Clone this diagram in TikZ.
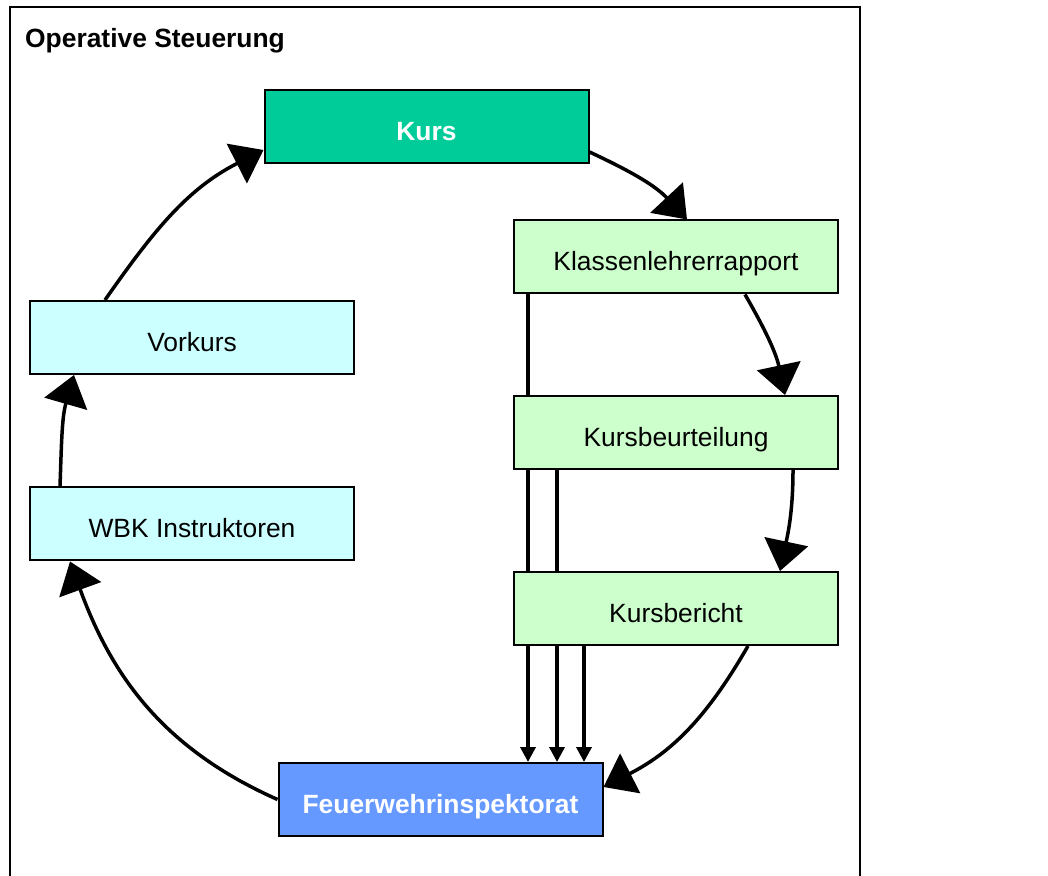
\documentclass[tikz,border=0pt]{standalone}
\usepackage{fontspec}
\setmainfont{Liberation Sans}
\usetikzlibrary{arrows.meta,backgrounds}
\definecolor{kursgreen}{HTML}{00CC99}
\definecolor{palegreen}{HTML}{CCFFCC}
\definecolor{palecyan}{HTML}{CCFFFF}
\definecolor{fwiblue}{HTML}{6699FF}
\tikzset{%
    box/.style={draw,line width=2pt,minimum width=324pt,minimum height=73pt,
      inner sep=0pt,text height=28pt,text depth=0pt,font=\fontsize{26.4}{30}\selectfont},
    boldbox/.style={box,text=white,font=\fontsize{26.4}{30}\selectfont\bfseries},
    flow/.style={line width=3.5pt,-{Triangle[length=30pt,width=44pt]}},
    feed/.style={line width=3.5pt,-{Triangle[length=15pt,width=15pt]}},
}
\begin{document}
\begin{tikzpicture}[x=1pt,y=1pt]
 \useasboundingbox (0,0) rectangle (1048,875);
 \draw[line width=2pt] (10,-20) -- (10,868) -- (860,868) -- (860,-20);
 \node[anchor=base west,inner sep=0pt,font=\fontsize{26.4}{30}\selectfont\bfseries] (title)
  at (25,827) {Operative Steuerung};
 \node[boldbox,fill=kursgreen] (K) at (426.5,748) {Kurs};
 \node[box,fill=palegreen] (KLR) at (676,618) {Klassenlehrerrapport};
 \node[box,fill=palegreen] (KB) at (676,442.5) {Kursbeurteilung};
 \node[box,fill=palegreen] (KBR) at (676,266.5) {Kursbericht};
 \node[box,fill=palecyan] (VK) at (192,537.5) {Vorkurs};
 \node[box,fill=palecyan] (WBK) at (192,351) {WBK Instruktoren};
 \node[boldbox,fill=fwiblue] (FWI) at (440.5,75.5) {Feuerwehrinspektorat};
 % reports straight down to the inspectorate
 \begin{scope}[on background layer]
 \foreach \N/\X in {KLR/15,KB/44,KBR/71}
 {\draw[feed] ([xshift=\X pt]\N.south west) -- ([xshift=\X pt]\N.south west |- FWI.north);}
 \end{scope}
 % the cycle
 \draw[flow] ([yshift=-25pt]K.east) to[out=-25,in=133] ([xshift=11pt]KLR.north);
 \draw[flow] ([xshift=69pt]KLR.south) to[out=-60,in=102] ([xshift=109pt]KB.north);
 \draw[flow] ([xshift=117pt]KB.south) to[out=-90,in=78] ([xshift=104pt]KBR.north);
 \draw[flow] ([xshift=72pt]KBR.south) to[out=-120,in=27] ([yshift=12.5pt]FWI.east);
 \draw[flow] (FWI.west) to[out=156,in=-70] ([xshift=-122pt]WBK.south);
 \draw[flow] ([xshift=-132pt]WBK.north) to[out=88,in=-106] ([xshift=-118pt]VK.south);
 \draw[flow] ([xshift=-87pt]VK.north) to[out=55,in=-153] ([yshift=-23pt]K.west);
\end{tikzpicture}
\end{document}
